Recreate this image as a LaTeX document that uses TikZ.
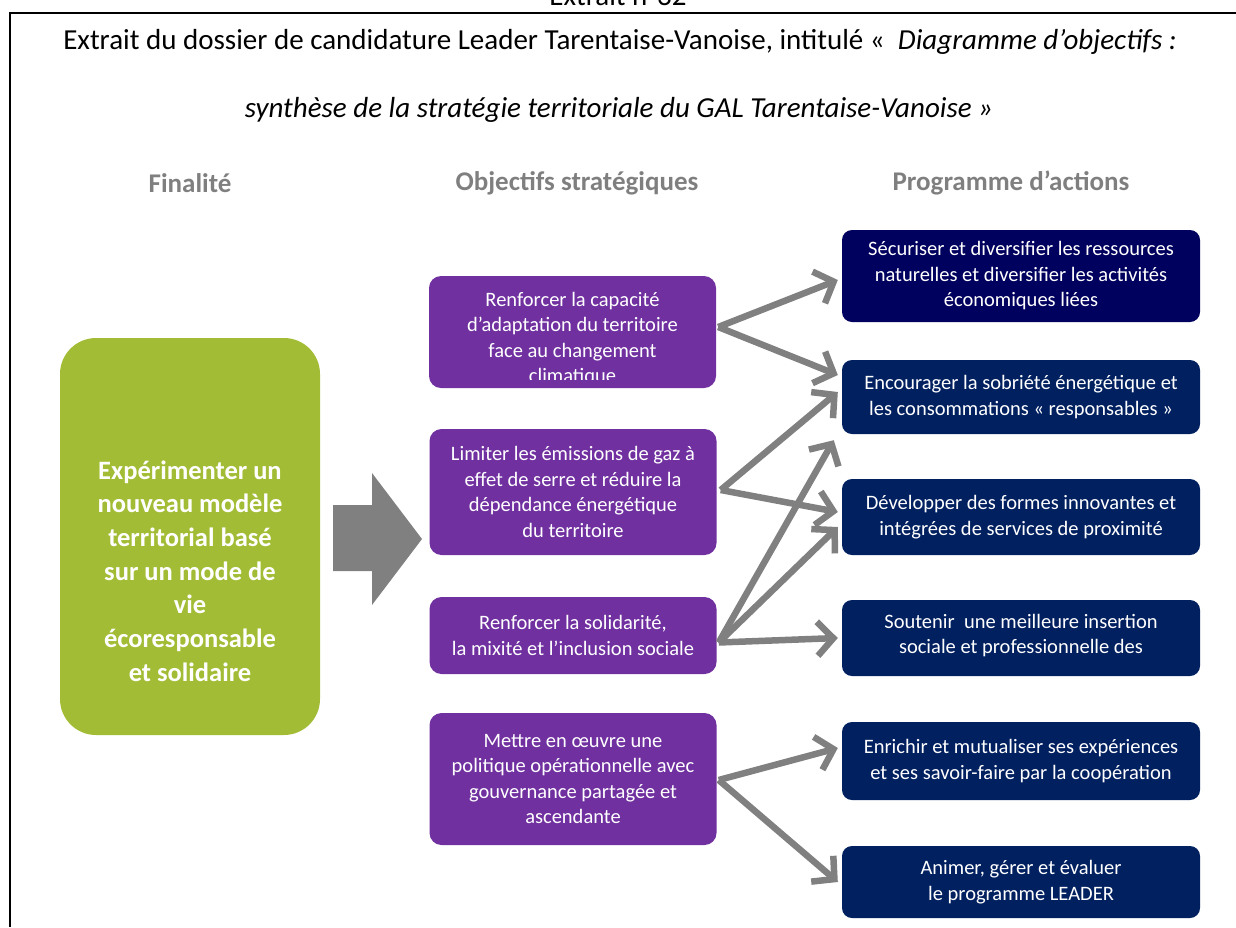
\documentclass[tikz,border=0pt]{standalone}
\usepackage{fontspec}
\setmainfont{Carlito}
\usepackage{tikz}
\usetikzlibrary{positioning,arrows.meta,calc}
\usepackage{xcolor}

\definecolor{goalgreen}{HTML}{A2BD35}
\definecolor{objpurple}{HTML}{7030A0}
\definecolor{actnavy}{HTML}{002060}
\definecolor{actdark}{HTML}{00005E}
\definecolor{linkgray}{HTML}{808080}
\definecolor{headgray}{HTML}{7F7F7F}

\tikzset{
    objbox/.style={fill=objpurple, rounded corners=12pt, minimum width=287pt, inner sep=0pt},
    actbox/.style={fill=actnavy, rounded corners=10pt, minimum width=358pt, inner sep=0pt},
    boxtext/.style={text=white, align=center, font=\fontsize{20.5}{25.5}\selectfont},
    colhead/.style={text=headgray, font=\fontsize{27}{30}\selectfont\bfseries},
    link/.style={draw=linkgray, line width=6.5pt, -{Straight Barb[length=16pt,width=34pt]}},
}

\begin{document}
\begin{tikzpicture}[x=1pt, y=-1pt]
    \useasboundingbox (0,0) rectangle (1236,927);

    % frame and heading
    \draw[line width=2pt] (1236,13) -- (10,13) -- (10,927);
    \node[anchor=base, font=\fontsize{29}{33}\selectfont] (extrait) at (618,5) {Extrait n°32};
    \node[font=\fontsize{29}{33}\selectfont] (title1) at (620,42)
        {Extrait du dossier de candidature Leader Tarentaise-Vanoise, intitulé «~ \textit{Diagramme d’objectifs :}};
    \node[font=\fontsize{29}{33}\selectfont\itshape] (title2) at (619,110)
        {synthèse de la stratégie territoriale du GAL Tarentaise-Vanoise »};

    % column titles
    \node[colhead] (hfin) at (190,183) {Finalité};
    \node[colhead] (hobj) at (577,183) {Objectifs stratégiques};
    \node[colhead] (hact) at (1011,183) {Programme d’actions};

    % finalite
    \node[fill=goalgreen, rounded corners=36pt, minimum width=260pt, minimum height=397pt] (fin) at (190,536.5) {};
    \node[text=white, align=center, font=\fontsize{26.5}{33.7}\selectfont\bfseries] (fint) at (190,571)
        {Expérimenter un\\nouveau modèle\\territorial basé\\sur un mode de\\vie\\écoresponsable\\et solidaire};
    \fill[linkgray] (333,505) -- (372,505) -- (372,473) -- (422,539) -- (372,605) -- (372,571) -- (333,571) -- cycle;

    % objectifs
    \node[objbox, minimum height=112pt] (p1) at (572.5,332) {};
    \begin{scope}
        \clip (p1.north west) rectangle ([yshift=9pt]p1.south east);
        \node[boxtext] (p1t) at (572.5,339) {Renforcer la capacité\\d’adaptation du territoire\\face au changement\\climatique};
    \end{scope}
    \node[objbox, minimum height=126pt, boxtext] (p2) at (573,492) {Limiter les émissions de gaz à\\effet de serre et réduire la\\dépendance énergétique\\du territoire};
    \node[objbox, minimum height=77pt, boxtext] (p3) at (573,635.5) {Renforcer la solidarité,\\la mixité et l’inclusion sociale};
    \node[objbox, minimum height=132pt, boxtext] (p4) at (573,779) {Mettre en œuvre une\\politique opérationnelle avec\\gouvernance partagée et\\ascendante};

    % actions
    \node[actbox, fill=actdark, minimum height=92pt, boxtext] (n1) at (1021,276) {Sécuriser et diversifier les ressources\\naturelles et diversifier les activités\\économiques liées};
    \node[actbox, minimum height=74pt, boxtext] (n2) at (1021,397) {Encourager la sobriété énergétique et\\les consommations « responsables »};
    \node[actbox, minimum height=76pt, boxtext] (n3) at (1021,517) {Développer des formes innovantes et\\intégrées de services de proximité};
    \node[actbox, minimum height=76pt] (n4) at (1021,638) {};
    \node[boxtext] (n4t) at (1021,635.5) {Soutenir~ une meilleure insertion\\sociale et professionnelle des};
    \node[actbox, minimum height=78pt, boxtext] (n5) at (1021,761) {Enrichir et mutualiser ses expériences\\et ses savoir-faire par la coopération};
    \node[actbox, minimum height=72pt, boxtext] (n6) at (1021,882) {Animer, gérer et évaluer\\le programme LEADER};

    % liens
    \coordinate (o1) at ([shift={(2pt,5pt)}]p1.east);
    \coordinate (o2) at ([shift={(4pt,2pt)}]p2.east);
    \coordinate (o3) at ([shift={(2pt,-7pt)}]p3.east);
    \coordinate (o4) at ([shift={(2pt,-1pt)}]p4.east);
    \draw[link] (o1) -- ([shift={(-4pt,-4pt)}]n1.west);
    \draw[link] (o1) -- ([shift={(-4pt,22pt)}]n2.west);
    \draw[link] (o2) -- ([shift={(-4pt,5pt)}]n2.west);
    \draw[link] (o2) -- ([shift={(-4pt,5pt)}]n3.west);
    \draw[link] (o3) -- ([shift={(-8pt,-6pt)}]n2.south west);
    \draw[link] (o3) -- ([shift={(-4pt,-10pt)}]n3.west);
    \draw[link] (o3) -- ([shift={(-4pt,0pt)}]n4.west);
    \draw[link] (o4) -- ([shift={(-4pt,13pt)}]n5.west);
    \draw[link] (o4) -- ([shift={(-4pt,0pt)}]n6.west);
\end{tikzpicture}
\end{document}
